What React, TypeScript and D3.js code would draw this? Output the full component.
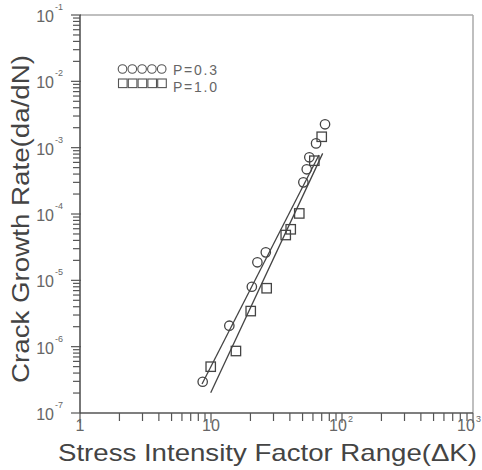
import React, { useEffect, useRef } from 'react';
import * as d3 from 'd3';

// P = 0.3 (circles)
const circleK = [8.64, 13.8, 20.5, 22.6, 26.2, 50.7, 53.8, 56.3, 63.4, 74.2];
const circleRate = [2.96e-7, 2.07e-6, 8.0e-6, 1.87e-5, 2.64e-5, 3.0e-4, 4.72e-4, 7.16e-4, 1.16e-3, 2.25e-3];

// P = 1.0 (squares)
const squareK = [9.95, 15.5, 20.1, 26.6, 37.2, 40.6, 47.2, 61.5, 70.0];
const squareRate = [4.99e-7, 8.6e-7, 3.44e-6, 7.6e-6, 4.82e-5, 5.88e-5, 1.02e-4, 6.36e-4, 1.46e-3];

// fitted lines (end points)
const fitLow = [[8.54, 2.73e-7], [66.7, 7.75e-4]];
const fitHigh = [[9.95, 2.02e-7], [71.2, 8.2e-4]];

const xTicks = [1, 10, 100, 1000];
const xTickLabels = ['1', '10', '10', '10'];
const xTickSup = ['', '', '2', '3'];
const yTicks = [1e-7, 1e-6, 1e-5, 1e-4, 1e-3, 1e-2, 1e-1];
const yTickSup = ['-7', '-6', '-5', '-4', '-3', '-2', '-1'];

const legendLabels = ['P=0.3', 'P=1.0'];

function App() {
  const svgRef = useRef<SVGSVGElement>(null);

  useEffect(() => {
    const svg = d3.select(svgRef.current);
    svg.selectAll('*').remove();

    const x = d3.scaleLog().domain([1, 1000]).range([80, 473]);
    const y = d3.scaleLog().domain([1e-7, 1e-1]).range([413, 15]);
    const txt = '#666';
    const font = 'Liberation Sans, Arial, sans-serif';

    // minor ticks
    const xMinor: number[] = [];
    for (let d = 1; d < 1000; d *= 10) for (let k = 2; k <= 9; k++) xMinor.push(d * k);
    const yMinor: number[] = [];
    for (let d = 1e-7; d < 0.09; d *= 10) for (let k = 2; k <= 9; k++) yMinor.push(d * k);

    const g = svg.append('g');

    // frame: top/right lighter
    g.append('line').attr('x1', 80).attr('x2', 473).attr('y1', 15).attr('y2', 15)
      .attr('stroke', '#aaa').attr('stroke-width', 1.5);
    g.append('line').attr('x1', 473).attr('x2', 473).attr('y1', 15).attr('y2', 413)
      .attr('stroke', '#aaa').attr('stroke-width', 1.5);

    g.selectAll('.xm').data(xMinor).join('line')
      .attr('x1', d => x(d)).attr('x2', d => x(d)).attr('y1', 413).attr('y2', 421)
      .attr('stroke', '#555').attr('stroke-width', 1.2);
    g.selectAll('.xM').data(xTicks).join('line')
      .attr('x1', d => x(d)).attr('x2', d => x(d)).attr('y1', 413).attr('y2', 423)
      .attr('stroke', '#555').attr('stroke-width', 1.2);
    g.selectAll('.ym').data(yMinor).join('line')
      .attr('x1', 73).attr('x2', 80).attr('y1', d => y(d)).attr('y2', d => y(d))
      .attr('stroke', '#555').attr('stroke-width', 1.2);
    g.selectAll('.yM').data(yTicks).join('line')
      .attr('x1', 71).attr('x2', 81).attr('y1', d => y(d)).attr('y2', d => y(d))
      .attr('stroke', '#555').attr('stroke-width', 1.2);

    g.append('line').attr('x1', 80).attr('x2', 473).attr('y1', 413).attr('y2', 413)
      .attr('stroke', '#555').attr('stroke-width', 1.6);
    g.append('line').attr('x1', 80).attr('x2', 80).attr('y1', 15).attr('y2', 413)
      .attr('stroke', '#555').attr('stroke-width', 1.6);

    // y tick labels
    yTicks.forEach((t, i) => {
      g.append('text').attr('x', 54).attr('y', y(t) + 7).attr('text-anchor', 'end')
        .attr('font-family', font).attr('font-size', 16).attr('fill', txt).text('10');
      g.append('text').attr('x', 55).attr('y', y(t) - 5)
        .attr('font-family', font).attr('font-size', 9).attr('fill', txt).text(yTickSup[i]);
    });

    // x tick labels
    xTicks.forEach((t, i) => {
      let cx = xTickSup[i] ? x(t) - 4 : x(t);
      if (t === 1000) cx = x(t) - 7;
      g.append('text').attr('x', cx).attr('y', 431).attr('text-anchor', 'middle')
        .attr('font-family', font).attr('font-size', 16).attr('fill', txt).text(xTickLabels[i]);
      if (xTickSup[i]) {
        g.append('text').attr('x', cx + 10).attr('y', 422)
          .attr('font-family', font).attr('font-size', 9).attr('fill', txt).text(xTickSup[i]);
      }
    });

    // fitted lines
    const line = d3.line<number[]>().x(d => x(d[0])).y(d => y(d[1]));
    [fitLow, fitHigh].forEach(f => {
      g.append('path').attr('d', line(f)).attr('fill', 'none')
        .attr('stroke', '#444').attr('stroke-width', 1.3);
    });

    // circles
    g.selectAll('.c').data(circleK).join('circle')
      .attr('cx', d => x(d)).attr('cy', (d, i) => y(circleRate[i])).attr('r', 4.7)
      .attr('fill', 'none').attr('stroke', '#444').attr('stroke-width', 1.3);
    // squares
    g.selectAll('.s').data(squareK).join('rect')
      .attr('x', d => x(d) - 4.7).attr('y', (d, i) => y(squareRate[i]) - 4.7)
      .attr('width', 9.4).attr('height', 9.4)
      .attr('fill', 'none').attr('stroke', '#444').attr('stroke-width', 1.3);

    // legend
    d3.range(5).forEach(i => {
      g.append('circle').attr('cx', 122.5 + i * 9.8).attr('cy', 69).attr('r', 4.3)
        .attr('fill', 'none').attr('stroke', '#555').attr('stroke-width', 1.1);
      g.append('rect').attr('x', 118.5 + i * 9.8).attr('y', 79).attr('width', 8.6).attr('height', 8.6)
        .attr('fill', 'none').attr('stroke', '#555').attr('stroke-width', 1.1);
    });
    legendLabels.forEach((l, i) => {
      g.append('text').attr('x', 173).attr('y', 75 + i * 17)
        .attr('font-family', font).attr('font-size', 14).attr('fill', txt)
        .attr('textLength', 44).attr('lengthAdjust', 'spacing').text(l);
    });

    // axis titles
    g.append('text').attr('x', 58).attr('y', 461)
      .attr('font-family', font).attr('font-size', 24).attr('fill', '#444')
      .attr('textLength', 419).attr('lengthAdjust', 'spacingAndGlyphs')
      .text('Stress Intensity Factor Range(ΔK)');
    g.append('text').attr('transform', 'translate(29,383) rotate(-90)')
      .attr('font-family', font).attr('font-size', 23).attr('fill', '#444')
      .attr('textLength', 328).attr('lengthAdjust', 'spacingAndGlyphs')
      .text('Crack Growth Rate(da/dN)');
  }, []);

  return (
    <svg ref={svgRef} width={482} height={470}
      style={{ position: 'absolute', left: 0, top: 0, background: '#fff' }} />
  );
}

export default App;
